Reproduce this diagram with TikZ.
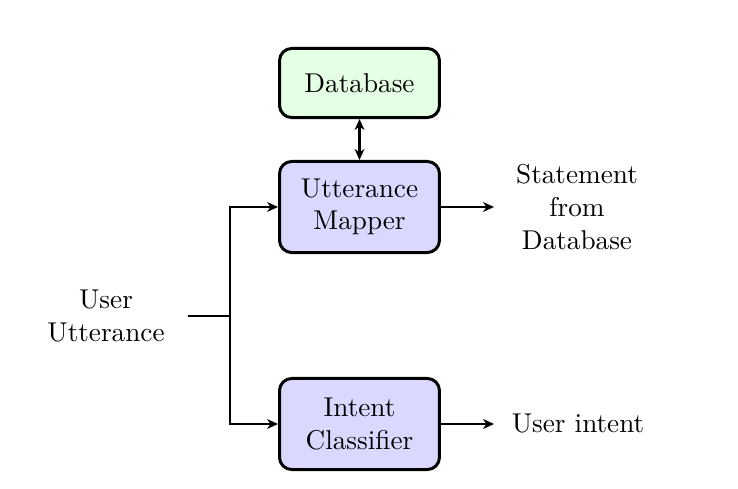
\documentclass[tikz,border=0pt]{standalone}
\usetikzlibrary{arrows.meta}
\begin{document}
\begin{tikzpicture}[x=0.3676pt,y=-0.3676pt,
 box/.style={draw, line width=1.1pt, rounded corners=4.5pt, minimum width=58.8pt, align=center, inner sep=2pt},
 conn/.style={line width=0.8pt},
 tip/.tip={Stealth[length=4pt,width=3.6pt,inset=1.2pt]},
 arr/.style={conn, -tip},
 lbl/.style={align=center}]
\useasboundingbox (0,0) rectangle (738,489);
\node[box, fill=green!10, minimum height=25.4pt] (db) at (359.5,83) {Database};
\node[box, fill=blue!15, minimum height=33.5pt] (um) at (359.5,207) {Utterance\\Mapper};
\node[box, fill=blue!15, minimum height=33.5pt] (ic) at (359.5,424) {Intent\\Classifier};
\node[lbl] (uu) at (106,316) {User\\Utterance};
\node[lbl] (st) at (577,207) {Statement\\from\\Database};
\node[lbl] (ui) at (578,424) {User intent};
\coordinate (uuout) at (188,316);
\coordinate (j) at (230,316);
\coordinate (umout) at (494,207);
\coordinate (icout) at (494,424);
\draw[conn] (uuout) -- (j);
\draw[arr] (j) |- (um.west);
\draw[arr] (j) |- (ic.west);
\draw[conn, tip-tip] (db) -- (um);
\draw[arr] (um.east) -- (umout);
\draw[arr] (ic.east) -- (icout);
\end{tikzpicture}
\end{document}
